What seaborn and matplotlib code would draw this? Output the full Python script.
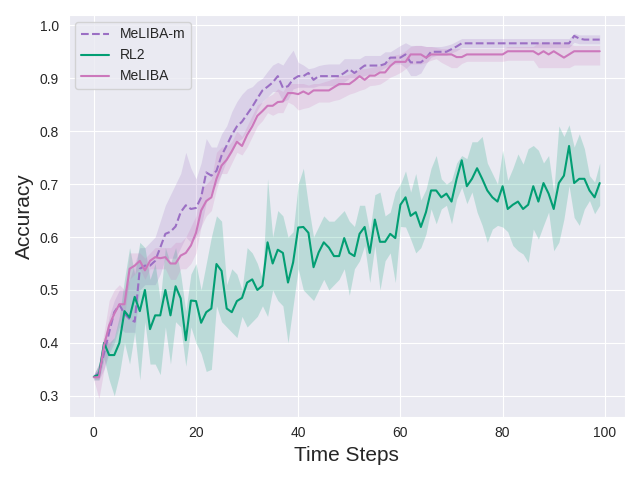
import numpy as np
import pandas as pd
import matplotlib
matplotlib.use("Agg")
import matplotlib.pyplot as plt
import seaborn as sns

# values, one per time step 0..99
steps = list(range(100))

meliba_m = [0.335, 0.344, 0.38, 0.42, 0.458, 0.472, 0.455, 0.445, 0.44, 0.54,
            0.546, 0.546, 0.555, 0.58, 0.606, 0.61, 0.62, 0.647, 0.66, 0.653,
            0.655, 0.675, 0.722, 0.716, 0.725, 0.754, 0.773, 0.793, 0.809, 0.818,
            0.832, 0.846, 0.862, 0.877, 0.884, 0.892, 0.904, 0.882, 0.885, 0.898,
            0.904, 0.904, 0.91, 0.897, 0.904, 0.904, 0.904, 0.904, 0.904, 0.91,
            0.917, 0.91, 0.917, 0.924, 0.924, 0.924, 0.924, 0.927, 0.939, 0.939,
            0.939, 0.945, 0.93, 0.93, 0.93, 0.938, 0.95, 0.95, 0.95, 0.95,
            0.955, 0.96, 0.966, 0.966, 0.966, 0.966, 0.966, 0.966, 0.966, 0.966,
            0.966, 0.966, 0.966, 0.966, 0.966, 0.966, 0.966, 0.966, 0.966, 0.966,
            0.966, 0.966, 0.966, 0.966, 0.98, 0.975, 0.973, 0.973, 0.973, 0.973]
meliba_m_hi = [0.34, 0.36, 0.40, 0.45, 0.48, 0.50, 0.50, 0.52, 0.55, 0.58,
               0.58, 0.59, 0.60, 0.63, 0.66, 0.68, 0.70, 0.72, 0.76, 0.73,
               0.71, 0.74, 0.786, 0.77, 0.77, 0.795, 0.81, 0.837, 0.856, 0.87,
               0.88, 0.884, 0.894, 0.90, 0.913, 0.925, 0.93, 0.925, 0.94, 0.953,
               0.93, 0.925, 0.918, 0.92, 0.924, 0.926, 0.927, 0.927, 0.927, 0.937,
               0.937, 0.937, 0.937, 0.943, 0.943, 0.943, 0.943, 0.95, 0.95, 0.956,
               0.962, 0.967, 0.962, 0.962, 0.962, 0.96, 0.96, 0.96, 0.96, 0.962,
               0.965, 0.97, 0.975, 0.975, 0.975, 0.975, 0.975, 0.975, 0.975, 0.975,
               0.975, 0.975, 0.975, 0.975, 0.975, 0.975, 0.975, 0.975, 0.975, 0.975,
               0.975, 0.975, 0.975, 0.975, 0.985, 0.982, 0.982, 0.982, 0.982, 0.982]
meliba_m_lo = [0.33, 0.33, 0.35, 0.38, 0.40, 0.43, 0.42, 0.42, 0.42, 0.50,
               0.51, 0.51, 0.51, 0.53, 0.56, 0.56, 0.56, 0.58, 0.60, 0.59,
               0.60, 0.62, 0.665, 0.685, 0.70, 0.72, 0.745, 0.76, 0.78, 0.786,
               0.80, 0.818, 0.84, 0.856, 0.865, 0.875, 0.875, 0.856, 0.86, 0.88,
               0.883, 0.883, 0.883, 0.883, 0.886, 0.886, 0.886, 0.886, 0.886, 0.893,
               0.90, 0.90, 0.902, 0.905, 0.908, 0.91, 0.915, 0.92, 0.927, 0.927,
               0.927, 0.92, 0.905, 0.905, 0.91, 0.927, 0.94, 0.943, 0.943, 0.943,
               0.948, 0.952, 0.958, 0.958, 0.958, 0.958, 0.958, 0.958, 0.958, 0.958,
               0.958, 0.958, 0.958, 0.958, 0.958, 0.958, 0.958, 0.958, 0.958, 0.958,
               0.958, 0.958, 0.958, 0.958, 0.968, 0.965, 0.965, 0.965, 0.965, 0.965]

rl2 = [0.336, 0.34, 0.40, 0.377, 0.377, 0.40, 0.46, 0.448, 0.487, 0.46,
       0.50, 0.426, 0.452, 0.452, 0.50, 0.452, 0.507, 0.484, 0.405, 0.48,
       0.479, 0.438, 0.458, 0.465, 0.549, 0.536, 0.465, 0.458, 0.479, 0.485,
       0.514, 0.52, 0.50, 0.508, 0.59, 0.55, 0.576, 0.57, 0.514, 0.552,
       0.618, 0.619, 0.608, 0.543, 0.571, 0.59, 0.58, 0.564, 0.564, 0.598,
       0.57, 0.564, 0.606, 0.619, 0.57, 0.633, 0.591, 0.591, 0.606, 0.598,
       0.661, 0.675, 0.64, 0.647, 0.619, 0.647, 0.688, 0.688, 0.675, 0.682,
       0.667, 0.71, 0.745, 0.696, 0.71, 0.73, 0.71, 0.688, 0.675, 0.667,
       0.696, 0.653, 0.661, 0.667, 0.653, 0.661, 0.696, 0.667, 0.702, 0.682,
       0.653, 0.702, 0.716, 0.772, 0.702, 0.71, 0.71, 0.688, 0.675, 0.702]
rl2_hi = [0.34, 0.36, 0.41, 0.40, 0.41, 0.45, 0.52, 0.58, 0.53, 0.59,
          0.58, 0.52, 0.55, 0.48, 0.58, 0.55, 0.58, 0.53, 0.46, 0.53,
          0.55, 0.50, 0.55, 0.60, 0.64, 0.63, 0.51, 0.54, 0.53, 0.50,
          0.58, 0.57, 0.55, 0.52, 0.71, 0.60, 0.65, 0.64, 0.60, 0.61,
          0.70, 0.73, 0.66, 0.60, 0.62, 0.64, 0.63, 0.63, 0.64, 0.65,
          0.63, 0.62, 0.66, 0.66, 0.61, 0.68, 0.685, 0.64, 0.647, 0.685,
          0.70, 0.725, 0.685, 0.72, 0.67, 0.69, 0.73, 0.754, 0.71, 0.70,
          0.707, 0.74, 0.754, 0.748, 0.78, 0.78, 0.79, 0.74, 0.72, 0.70,
          0.764, 0.707, 0.73, 0.757, 0.738, 0.767, 0.773, 0.764, 0.74, 0.754,
          0.685, 0.81, 0.79, 0.812, 0.77, 0.795, 0.767, 0.716, 0.704, 0.74]
rl2_lo = [0.33, 0.33, 0.37, 0.33, 0.30, 0.34, 0.40, 0.36, 0.42, 0.33,
          0.44, 0.36, 0.36, 0.34, 0.43, 0.36, 0.44, 0.43, 0.356, 0.43,
          0.40, 0.38, 0.346, 0.35, 0.47, 0.44, 0.43, 0.42, 0.41, 0.45,
          0.43, 0.44, 0.45, 0.47, 0.45, 0.50, 0.48, 0.47, 0.40, 0.47,
          0.54, 0.50, 0.49, 0.48, 0.50, 0.52, 0.50, 0.51, 0.52, 0.54,
          0.49, 0.54, 0.555, 0.584, 0.514, 0.584, 0.50, 0.555, 0.57, 0.514,
          0.62, 0.619, 0.596, 0.57, 0.58, 0.606, 0.653, 0.625, 0.653, 0.66,
          0.625, 0.672, 0.694, 0.663, 0.685, 0.647, 0.622, 0.59, 0.615, 0.622,
          0.619, 0.61, 0.584, 0.574, 0.568, 0.552, 0.615, 0.596, 0.622, 0.647,
          0.574, 0.59, 0.634, 0.697, 0.637, 0.622, 0.653, 0.669, 0.644, 0.66]

meliba = [0.335, 0.335, 0.395, 0.433, 0.455, 0.473, 0.473, 0.54, 0.546, 0.555,
          0.537, 0.555, 0.562, 0.56, 0.562, 0.55, 0.55, 0.565, 0.57, 0.584,
          0.608, 0.65, 0.668, 0.675, 0.71, 0.735, 0.746, 0.762, 0.78, 0.772,
          0.793, 0.809, 0.829, 0.838, 0.848, 0.848, 0.855, 0.856, 0.872, 0.872,
          0.87, 0.875, 0.87, 0.877, 0.877, 0.877, 0.877, 0.883, 0.889, 0.889,
          0.889, 0.896, 0.904, 0.897, 0.905, 0.905, 0.911, 0.911, 0.923, 0.931,
          0.931, 0.931, 0.945, 0.945, 0.945, 0.939, 0.945, 0.945, 0.945, 0.945,
          0.945, 0.94, 0.94, 0.945, 0.945, 0.945, 0.945, 0.945, 0.945, 0.945,
          0.945, 0.951, 0.951, 0.951, 0.951, 0.951, 0.951, 0.945, 0.951, 0.945,
          0.951, 0.945, 0.939, 0.945, 0.951, 0.951, 0.951, 0.951, 0.951, 0.951]
meliba_hi = [0.34, 0.36, 0.42, 0.48, 0.50, 0.51, 0.50, 0.57, 0.57, 0.57,
             0.56, 0.57, 0.58, 0.58, 0.58, 0.58, 0.59, 0.59, 0.60, 0.62,
             0.64, 0.69, 0.70, 0.71, 0.76, 0.77, 0.77, 0.78, 0.80, 0.79,
             0.81, 0.83, 0.85, 0.855, 0.865, 0.87, 0.88, 0.875, 0.89, 0.89,
             0.89, 0.89, 0.887, 0.89, 0.89, 0.893, 0.896, 0.90, 0.905, 0.905,
             0.908, 0.912, 0.918, 0.918, 0.92, 0.922, 0.924, 0.93, 0.94, 0.944,
             0.946, 0.952, 0.96, 0.962, 0.962, 0.96, 0.96, 0.958, 0.956, 0.956,
             0.956, 0.956, 0.956, 0.956, 0.956, 0.956, 0.956, 0.956, 0.956, 0.956,
             0.956, 0.96, 0.96, 0.96, 0.96, 0.96, 0.96, 0.968, 0.968, 0.968,
             0.968, 0.968, 0.968, 0.965, 0.962, 0.962, 0.962, 0.962, 0.962, 0.962]
meliba_lo = [0.33, 0.295, 0.35, 0.39, 0.41, 0.44, 0.45, 0.52, 0.53, 0.54,
             0.52, 0.54, 0.54, 0.54, 0.54, 0.52, 0.52, 0.54, 0.54, 0.55,
             0.57, 0.62, 0.64, 0.65, 0.69, 0.72, 0.72, 0.74, 0.76, 0.755,
             0.77, 0.79, 0.81, 0.82, 0.835, 0.83, 0.835, 0.835, 0.855, 0.85,
             0.84, 0.843, 0.845, 0.85, 0.855, 0.855, 0.855, 0.858, 0.86, 0.865,
             0.87, 0.873, 0.877, 0.88, 0.886, 0.887, 0.889, 0.895, 0.902, 0.906,
             0.911, 0.918, 0.927, 0.927, 0.927, 0.93, 0.934, 0.937, 0.93, 0.925,
             0.92, 0.92, 0.928, 0.932, 0.932, 0.932, 0.932, 0.932, 0.932, 0.932,
             0.932, 0.934, 0.934, 0.934, 0.934, 0.934, 0.934, 0.92, 0.92, 0.92,
             0.92, 0.92, 0.92, 0.92, 0.925, 0.925, 0.925, 0.925, 0.925, 0.925]

sns.set_style("darkgrid")
# reference text is Arial-like
plt.rcParams["font.family"] = ["Liberation Sans", "DejaVu Sans"]

fig, ax = plt.subplots(figsize=(6.4, 4.8), dpi=100)

purple = "#9b6fc4"
green = "#029e73"
pink = "#cc78bc"

sns.lineplot(x=steps, y=meliba_m, ax=ax, color=purple, linestyle="--", label="MeLIBA-m")
ax.fill_between(steps, meliba_m_lo, meliba_m_hi, color=purple, alpha=0.2, linewidth=0)

sns.lineplot(x=steps, y=rl2, ax=ax, color=green, label="RL2")
ax.fill_between(steps, rl2_lo, rl2_hi, color=green, alpha=0.2, linewidth=0)

sns.lineplot(x=steps, y=meliba, ax=ax, color=pink, label="MeLIBA")
ax.fill_between(steps, meliba_lo, meliba_hi, color=pink, alpha=0.2, linewidth=0)

ax.set_xlabel("Time Steps", fontsize=15)
ax.set_ylabel("Accuracy", fontsize=15)
ax.legend(loc="upper left")

fig.tight_layout()
fig.savefig("out.png", dpi=100)
